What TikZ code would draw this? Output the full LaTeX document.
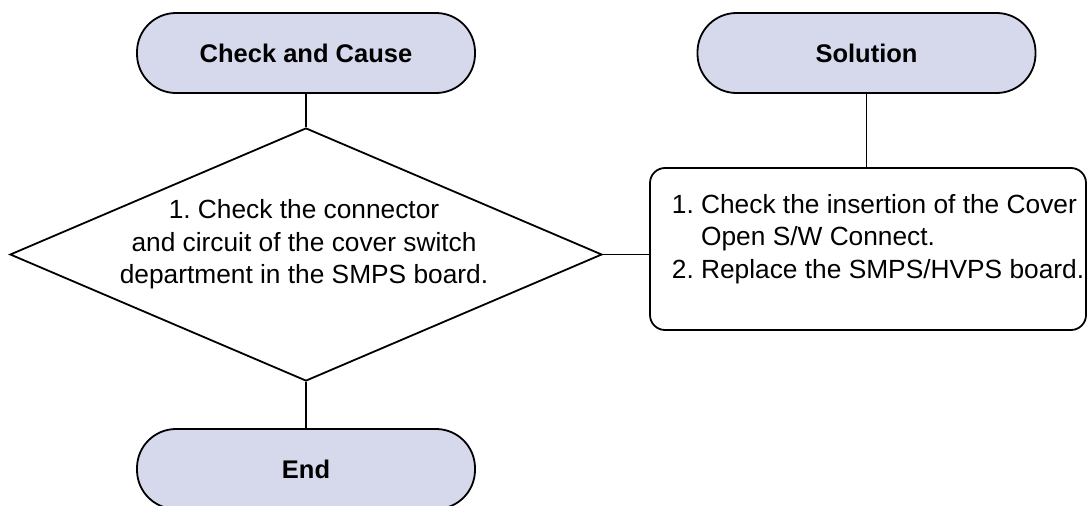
\documentclass[tikz,border=0pt]{standalone}
\usepackage{fontspec}
\setmainfont{Liberation Sans}
\usetikzlibrary{shapes.geometric}
\definecolor{termfill}{RGB}{214,216,236}
\frenchspacing
\begin{document}
\begin{tikzpicture}[x=1pt,y=-1pt,line width=1.8pt,
  term/.style={draw, fill=termfill, rounded corners=39pt, minimum width=338pt,
    minimum height=80pt, inner sep=0pt, font=\fontsize{25.5}{30}\selectfont\bfseries},
  decision/.style={draw, diamond, minimum width=592pt, minimum height=253pt, inner sep=0pt},
  solbox/.style={draw, rectangle, rounded corners=15pt, minimum width=436pt,
    minimum height=162pt, inner sep=0pt},
  bodytext/.style={inner sep=0pt, font=\fontsize{26.3}{32.5}\selectfont\frenchspacing},
  link/.style={draw, line width=1.8pt}]
\useasboundingbox (0,0) rectangle (1087,506);
\node[term] (cc) at (306,53) {Check and Cause};
\node[term] (sol) at (866.5,53) {Solution};
\node[term] (end) at (306,469) {End};
\node[decision] (dec) at (306,254.5) {};
\node[bodytext, align=center] (dectext) at (304,244.5) {1. Check the connector\\and circuit of the cover switch\\department in the SMPS board.};
\node[solbox] (box) at (868,249) {};
\node[bodytext, align=left, anchor=west] (boxtext) at (671,239) {1.~Check the insertion of the Cover\\\hphantom{1.~}Open S/W Connect.\\2.~Replace the SMPS/HVPS board.};
\path[link] (cc.south) -- (dec.north);
\path[link] (dec.south) -- (end.north);
\path[link] (dec.east) -- (dec.east -| box.west);
\path[link] (sol.south) -- (sol.south |- box.north);
\end{tikzpicture}
\end{document}
